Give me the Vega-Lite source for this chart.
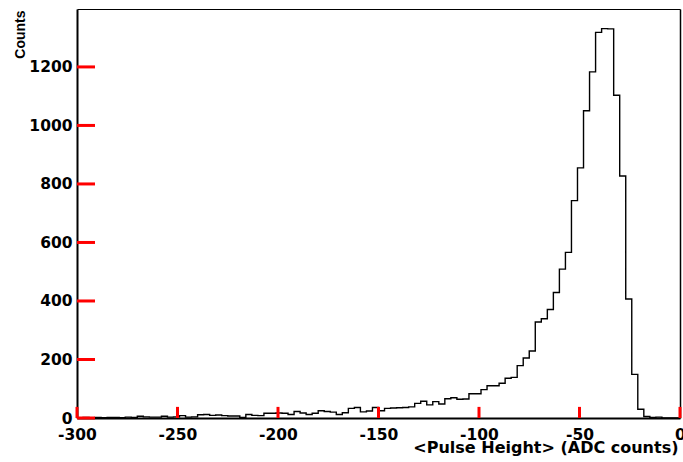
{
  "$schema": "https://vega.github.io/schema/vega-lite/v6.json",
  "width": 603,
  "height": 409,
  "autosize": {"type": "none"},
  "padding": {"left": 77, "top": 9, "right": 3, "bottom": 44},
  "background": "white",
  "config": {
    "view": {"stroke": null},
    "axis": {
      "ticks": false,
      "grid": false,
      "domainColor": "black",
      "labelColor": "black",
      "titleColor": "black",
      "labelFont": "DejaVu Sans",
      "labelFontWeight": "bold",
      "labelFontSize": 15.5,
      "titleFont": "DejaVu Sans",
      "titleFontWeight": "bold",
      "labelOverlap": false,
      "labelFlush": false
    }
  },
  "datasets": {
    "hist": [
      {"x": -300, "count": 1}, {"x": -297, "count": 2}, {"x": -294, "count": 1}, {"x": -291, "count": 2},
      {"x": -288, "count": 1}, {"x": -285, "count": 2}, {"x": -282, "count": 2}, {"x": -279, "count": 1},
      {"x": -276, "count": 3}, {"x": -273, "count": 2}, {"x": -270, "count": 6}, {"x": -267, "count": 4},
      {"x": -264, "count": 3}, {"x": -261, "count": 3}, {"x": -258, "count": 6}, {"x": -255, "count": 3},
      {"x": -252, "count": 4}, {"x": -249, "count": 8}, {"x": -246, "count": 3}, {"x": -243, "count": 4},
      {"x": -240, "count": 11}, {"x": -237, "count": 12}, {"x": -234, "count": 9}, {"x": -231, "count": 10},
      {"x": -228, "count": 8}, {"x": -225, "count": 7}, {"x": -222, "count": 7}, {"x": -219, "count": 2},
      {"x": -216, "count": 12}, {"x": -213, "count": 9}, {"x": -210, "count": 8}, {"x": -207, "count": 16},
      {"x": -204, "count": 16}, {"x": -201, "count": 17}, {"x": -198, "count": 16}, {"x": -195, "count": 12},
      {"x": -192, "count": 22}, {"x": -189, "count": 17}, {"x": -186, "count": 12}, {"x": -183, "count": 16},
      {"x": -180, "count": 25}, {"x": -177, "count": 22}, {"x": -174, "count": 20}, {"x": -171, "count": 12},
      {"x": -168, "count": 18}, {"x": -165, "count": 33}, {"x": -162, "count": 36}, {"x": -159, "count": 21},
      {"x": -156, "count": 24}, {"x": -153, "count": 36}, {"x": -150, "count": 25}, {"x": -147, "count": 33},
      {"x": -144, "count": 34}, {"x": -141, "count": 35}, {"x": -138, "count": 36}, {"x": -135, "count": 38},
      {"x": -132, "count": 50}, {"x": -129, "count": 57}, {"x": -126, "count": 45}, {"x": -123, "count": 56},
      {"x": -120, "count": 48}, {"x": -117, "count": 66}, {"x": -114, "count": 69}, {"x": -111, "count": 64},
      {"x": -108, "count": 65}, {"x": -105, "count": 83}, {"x": -102, "count": 83}, {"x": -99, "count": 97},
      {"x": -96, "count": 110}, {"x": -93, "count": 110}, {"x": -90, "count": 119}, {"x": -87, "count": 136},
      {"x": -84, "count": 139}, {"x": -81, "count": 179}, {"x": -78, "count": 205}, {"x": -75, "count": 229},
      {"x": -72, "count": 328}, {"x": -69, "count": 339}, {"x": -66, "count": 371}, {"x": -63, "count": 429},
      {"x": -60, "count": 509}, {"x": -57, "count": 566}, {"x": -54, "count": 743}, {"x": -51, "count": 855},
      {"x": -48, "count": 1050}, {"x": -45, "count": 1183}, {"x": -42, "count": 1318}, {"x": -39, "count": 1331},
      {"x": -36, "count": 1330}, {"x": -33, "count": 1103}, {"x": -30, "count": 827}, {"x": -27, "count": 407},
      {"x": -24, "count": 149}, {"x": -21, "count": 30}, {"x": -18, "count": 5}, {"x": -15, "count": 2},
      {"x": -12, "count": 3}, {"x": -9, "count": 0}, {"x": -6, "count": 0}, {"x": -3, "count": 0},
      {"x": 0, "count": 0}
    ]
  },
  "data": {"name": "hist"},
  "resolve": {"axis": {"x": "independent", "y": "independent"}},
  "layer": [
    {
      "mark": {"type": "line", "interpolate": "step-after", "color": "black", "strokeWidth": 1.4},
      "encoding": {
        "x": {
          "field": "x", "type": "quantitative",
          "scale": {"domain": [-300, 0], "nice": false, "zero": false},
          "axis": {
            "orient": "bottom",
            "values": [-300, -250, -200, -150, -100, -50, 0],
            "domainWidth": 2,
            "labelExpr": "'' + datum.value",
            "labelPadding": 9,
            "title": "<Pulse Height> (ADC counts)",
            "titleFontSize": 16,
            "titleAlign": "right",
            "titleBaseline": "middle",
            "titleX": 601,
            "titleY": 29
          }
        },
        "y": {
          "field": "count", "type": "quantitative",
          "scale": {"domain": [0, 1398], "nice": false},
          "axis": {
            "orient": "left",
            "values": [0, 200, 400, 600, 800, 1000, 1200],
            "domainWidth": 2,
            "labelExpr": "'' + datum.value",
            "labelPadding": 5,
            "title": "Counts",
            "titleFont": "Liberation Sans",
            "titleFontSize": 14,
            "titleAngle": -90,
            "titleAlign": "right",
            "titleBaseline": "middle",
            "titleX": -57,
            "titleY": 1
          }
        }
      }
    },
    {
      "mark": {"type": "line", "interpolate": "step-after", "strokeOpacity": 0},
      "encoding": {
        "x": {
          "field": "x", "type": "quantitative",
          "axis": {"orient": "top", "values": [], "domainWidth": 1, "labels": false, "title": null}
        },
        "y": {
          "field": "count", "type": "quantitative",
          "axis": {"orient": "right", "values": [], "domainWidth": 1.5, "labels": false, "title": null}
        }
      }
    },
    {
      "data": {"values": [{"v": -300}, {"v": -250}, {"v": -200}, {"v": -150}, {"v": -100}, {"v": -50}, {"v": 0}]},
      "mark": {"type": "rule", "color": "red", "strokeWidth": 3},
      "encoding": {
        "x": {"field": "v", "type": "quantitative", "axis": null},
        "y": {"datum": 0, "type": "quantitative", "axis": null},
        "y2": {"datum": 38}
      }
    },
    {
      "data": {"values": [{"v": 0}, {"v": 200}, {"v": 400}, {"v": 600}, {"v": 800}, {"v": 1000}, {"v": 1200}]},
      "mark": {"type": "tick", "orient": "horizontal", "size": 18, "thickness": 3, "color": "red", "opacity": 1, "xOffset": 9},
      "encoding": {
        "y": {"field": "v", "type": "quantitative", "axis": null},
        "x": {"datum": -300, "type": "quantitative", "axis": null}
      }
    }
  ]
}
